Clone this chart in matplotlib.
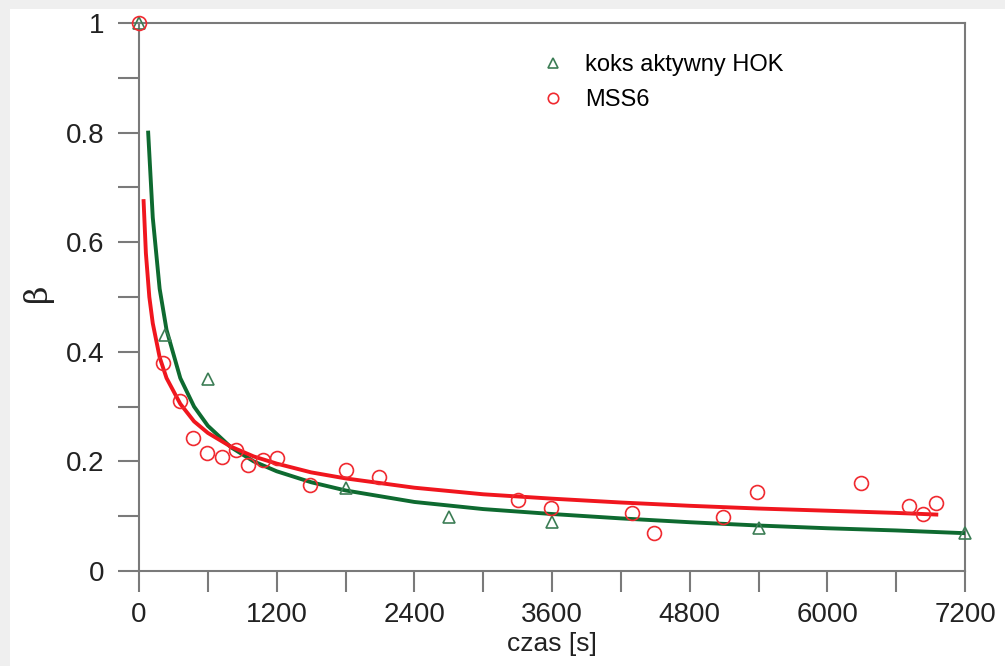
import matplotlib.pyplot as plt
from matplotlib.patches import Rectangle

plt.rcParams['font.family'] = ['Liberation Sans', 'DejaVu Sans']

# measured points
hok_t = [0, 230, 600, 1800, 2700, 3600, 5400, 7200]
hok_b = [1.0, 0.43, 0.35, 0.151, 0.099, 0.089, 0.078, 0.069]

mss_t = [0, 210, 360, 470, 590, 720, 845, 950, 1080, 1200, 1490, 1800, 2090,
         3300, 3590, 4300, 4490, 5090, 5390, 6290, 6710, 6830, 6950]
mss_b = [1.0, 0.38, 0.31, 0.243, 0.215, 0.208, 0.22, 0.193, 0.203, 0.206, 0.157,
         0.184, 0.172, 0.13, 0.115, 0.106, 0.07, 0.099, 0.144, 0.16, 0.119, 0.104, 0.124]

# fitted curves
hok_fit_t = [80, 120, 180, 240, 360, 480, 600, 800, 1000, 1200, 1500, 1800,
             2400, 3000, 3600, 4200, 4800, 5400, 6000, 6600, 7200]
hok_fit_b = [0.80, 0.645, 0.515, 0.44, 0.352, 0.30, 0.265, 0.226, 0.20, 0.182, 0.162,
             0.147, 0.126, 0.113, 0.104, 0.096, 0.089, 0.083, 0.078, 0.074, 0.069]

mss_fit_t = [40, 60, 90, 120, 180, 240, 360, 480, 600, 800, 1000, 1200, 1500,
             1800, 2400, 3000, 3600, 4200, 4800, 5400, 6000, 6600, 6950]
mss_fit_b = [0.675, 0.58, 0.50, 0.452, 0.39, 0.352, 0.305, 0.273, 0.252, 0.227, 0.209,
             0.196, 0.18, 0.169, 0.152, 0.140, 0.132, 0.125, 0.119, 0.114, 0.110, 0.106, 0.103]

fig = plt.figure(figsize=(10.05, 6.66), dpi=100, facecolor='#efefef')
fig.patches.append(Rectangle((10 / 1005, 0), 1, 1 - 9 / 666, transform=fig.transFigure,
                             facecolor='white', edgecolor='none', zorder=-10))
ax = fig.add_axes([139 / 1005, 1 - 571 / 666, 826 / 1005, 548 / 666])

ax.plot(hok_fit_t, hok_fit_b, color='#0e6a30', lw=2.8, zorder=3)
ax.plot(mss_fit_t, mss_fit_b, color='#f0161e', lw=2.8, zorder=3)
ax.plot(hok_t, hok_b, ls='none', marker='^', ms=9, mfc='none', mec='#3c7d55', mew=1.2,
        label='koks aktywny HOK', zorder=4, clip_on=False)
ax.plot(mss_t, mss_b, ls='none', marker='o', ms=10, mfc='none', mec='#f02a30', mew=1.2,
        label='MSS6', zorder=4, clip_on=False)

ax.set_xlim(0, 7200)
ax.set_ylim(0, 1)
ax.set_xticks(range(0, 7201, 1200))
ax.set_xticks(range(0, 7201, 600), minor=True)
ax.set_yticks([0, 0.2, 0.4, 0.6, 0.8, 1])
ax.set_yticklabels(['0', '0.2', '0.4', '0.6', '0.8', '1'])
ax.set_yticks([0.1, 0.3, 0.5, 0.7, 0.9], minor=True)

for s in ax.spines.values():
    s.set_color('#7a7a7a')
    s.set_linewidth(1.5)
ax.tick_params(which='both', direction='out', length=15, width=1.5, color='#7a7a7a',
               labelsize=20, labelcolor='#222222')
ax.tick_params(axis='x', pad=7)
ax.tick_params(axis='y', pad=10)

ax.set_xlabel('czas [s]', fontsize=19, color='#222222', labelpad=3)
ax.set_ylabel('β', fontsize=23, color='#222222', family='DejaVu Serif')
ax.yaxis.set_label_coords(-0.104, 0.507)

ax.legend(loc='upper left', bbox_to_anchor=(0.4615, 0.982), frameon=False, fontsize=17,
          handlelength=1.0, handletextpad=0.85, labelspacing=0.55, markerscale=0.75)

fig.savefig('out.png', dpi=100, facecolor=fig.get_facecolor())
